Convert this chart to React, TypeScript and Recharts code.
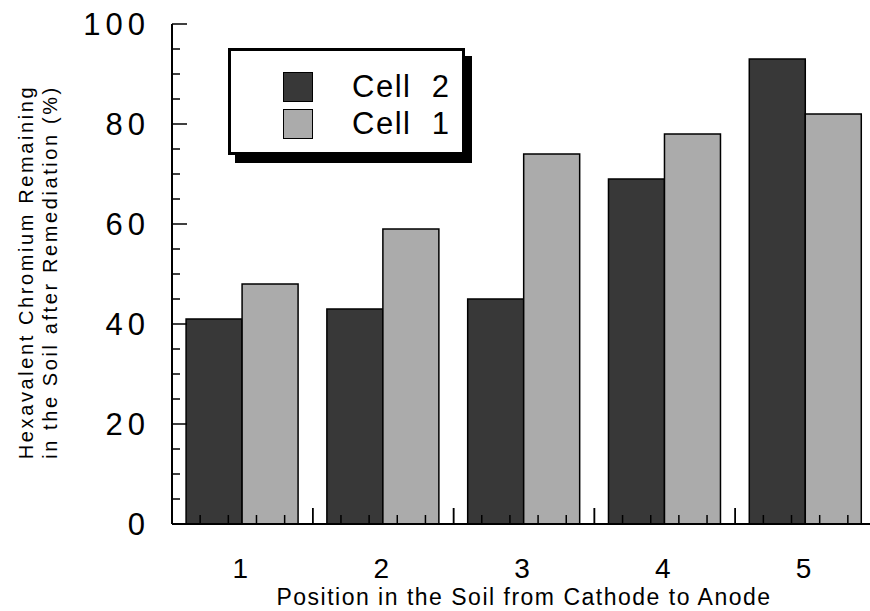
import React from "react";
import { BarChart, Bar, XAxis, YAxis, Legend } from "recharts";

// categories and series values
const positions = ["1", "2", "3", "4", "5"];
const cell2 = [41, 43, 45, 69, 93];
const cell1 = [48, 59, 74, 78, 82];
const yTicks = [0, 5, 10, 15, 20, 25, 30, 35, 40, 45, 50, 55, 60, 65, 70, 75, 80, 85, 90, 95, 100];
const yLabels = [0, 20, 40, 60, 80, 100];

const COLORS = {
  cell2: "#383838",
  cell1: "#ababab",
};

const FONT = '"Liberation Sans", Arial, Helvetica, sans-serif';

const data = positions.map((p, i) => ({ pos: p, cell2: cell2[i], cell1: cell1[i] }));

const LeftTick = (props: any) => {
  const { x, y, payload } = props;
  const major = yLabels.includes(payload.value);
  return (
    <g>
      <line x1={x} x2={x + (major ? 15 : 8)} y1={y} y2={y} stroke="#000" strokeWidth={1.5} />
      {major && (
        <text
          x={x - 22}
          y={y}
          textAnchor="end"
          dominantBaseline="central"
          fontFamily={FONT}
          fontSize={31}
          letterSpacing={5}
          fill="#000"
        >
          {payload.value}
        </text>
      )}
    </g>
  );
};

const RightTick = (props: any) => {
  const { x, y, payload } = props;
  const major = yLabels.includes(payload.value);
  return <line x1={x} x2={x - (major ? 15 : 8)} y1={y} y2={y} stroke="#000" strokeWidth={1.5} />;
};

// category label plus five small inward ticks across each band
const BottomTick = (props: any) => {
  const { x, y, payload } = props;
  const half = payload.offset || 70;
  const left = x - half;
  const step = (half * 2) / 5;
  const marks = [];
  for (let k = 0; k <= 5; k++) {
    const boundary = k === 0 || k === 5;
    marks.push(
      <line
        key={k}
        x1={left + k * step}
        x2={left + k * step}
        y1={y}
        y2={y - (boundary ? 16 : 9)}
        stroke="#000"
        strokeWidth={1.5}
      />
    );
  }
  return (
    <g>
      {marks}
      <text x={x - 2} y={y + 54} textAnchor="middle" fontFamily={FONT} fontSize={28} fill="#000">
        {payload.value}
      </text>
    </g>
  );
};

const LegendBox = () => (
  <div
    style={{
      width: 237,
      height: 107,
      border: "3px solid #000",
      boxShadow: "7px 8px 0 #000",
      background: "#fff",
      boxSizing: "border-box",
      paddingTop: 17,
      paddingLeft: 52,
      fontFamily: FONT,
    }}
  >
    {[
      { name: "Cell 2", color: COLORS.cell2 },
      { name: "Cell 1", color: COLORS.cell1 },
    ].map((item) => (
      <div key={item.name} style={{ display: "flex", alignItems: "center", height: 37 }}>
        <div
          style={{
            width: 30,
            height: 30,
            background: item.color,
            border: "1.5px solid #000",
            boxSizing: "border-box",
          }}
        />
        <span style={{ marginLeft: 39, fontSize: 31, letterSpacing: 1.5, color: "#000", lineHeight: 1 }}>
          {item.name.replace(" ", "\u00a0\u00a0")}
        </span>
      </div>
    ))}
  </div>
);

const YTitle = () => (
  <g fontFamily={FONT} fontSize={20} letterSpacing={2.6} fill="#000">
    <text x={33} y={272} textAnchor="middle" transform="rotate(-90 33 272)">
      Hexavalent Chromium Remaining
    </text>
    <text x={57} y={272} textAnchor="middle" transform="rotate(-90 57 272)">
      in the Soil after Remediation (%)
    </text>
  </g>
);

const XTitle = (props: any) => {
  const vb = props.viewBox || { x: 172, width: 704, y: 524 };
  const cx = vb.x + vb.width / 2;
  return (
    <text x={cx} y={605} textAnchor="middle" fontFamily={FONT} fontSize={23} letterSpacing={1.5} fill="#000">
      Position in the Soil from Cathode to Anode
    </text>
  );
};

export default function App() {
  return (
    <div style={{ position: "absolute", left: 0, top: 0, width: 870, height: 611, overflow: "hidden", background: "#fff" }}>
      <BarChart
        width={880}
        height={611}
        data={data}
        margin={{ top: 24, right: 0, left: 0, bottom: 0 }}
        barCategoryGap="10%"
        barGap={0}
      >
        <Bar dataKey="cell2" name="Cell 2" fill={COLORS.cell2} stroke="#000" strokeWidth={1.5} isAnimationActive={false} />
        <Bar dataKey="cell1" name="Cell 1" fill={COLORS.cell1} stroke="#000" strokeWidth={1.5} isAnimationActive={false} />
        <XAxis
          dataKey="pos"
          height={87}
          tickSize={0}
          tickMargin={0}
          tickLine={false}
          interval={0}
          axisLine={{ stroke: "#000", strokeWidth: 2 }}
          tick={<BottomTick />}
          label={{ content: (p: any) => <XTitle {...p} /> }}
        />
        <XAxis
          xAxisId="top"
          dataKey="pos"
          orientation="top"
          height={0}
          tick={false}
          tickLine={false}
          axisLine={{ stroke: "#000", strokeWidth: 2 }}
        />
        <YAxis
          domain={[0, 100]}
          ticks={yTicks}
          interval={0}
          width={172}
          tickSize={0}
          tickMargin={0}
          tickLine={false}
          axisLine={{ stroke: "#000", strokeWidth: 2 }}
          tick={<LeftTick />}
          label={{ content: () => <YTitle /> }}
        />
        <YAxis
          yAxisId="right"
          orientation="right"
          domain={[0, 100]}
          ticks={yTicks}
          interval={0}
          width={4}
          tickSize={0}
          tickMargin={0}
          tickLine={false}
          axisLine={{ stroke: "#000", strokeWidth: 2 }}
          tick={<RightTick />}
        />
        <Legend
          layout="vertical"
          align="center"
          verticalAlign="middle"
          content={() => <LegendBox />}
          wrapperStyle={{ left: 228, top: 48, width: 245, height: 116 }}
        />
      </BarChart>
    </div>
  );
}
